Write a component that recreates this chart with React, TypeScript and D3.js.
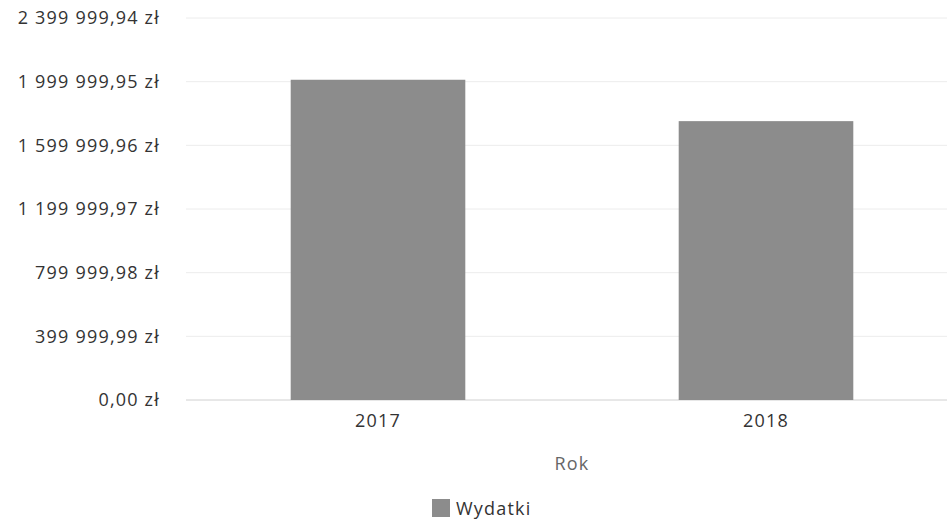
import React from "react";
import * as d3 from "d3";

const categories = ["2017", "2018"];
const values = [2012000, 1752000];
const tickValues = [0, 399999.99, 799999.98, 1199999.97, 1599999.96, 1999999.95, 2399999.94];
const seriesName = "Wydatki";
const xTitle = "Rok";

const W = 947;
const H = 522;
const FONT = "'Open Sans', sans-serif";

function fmt(v: number): string {
  const [intPart, dec] = v.toFixed(2).split(".");
  const withSpaces = intPart.replace(/\B(?=(\d{3})+(?!\d))/g, " ");
  return `${withSpaces},${dec} zł`;
}

export default function App() {
  const left = 184;
  const top = 18;
  const bottom = 400;
  const y = d3.scaleLinear().domain([0, tickValues[tickValues.length - 1]]).range([bottom, top]);
  const x = d3.scaleBand<string>().domain(categories).range([left, 960]).paddingInner(0.55).paddingOuter(0.275);
  const barColor = "#8c8c8c";
  const ls = 1.2;
  return (
    <svg width={W} height={H} style={{ position: "absolute", left: 0, top: 0, background: "#fff" }}>
      {tickValues.map((t, i) => (
        <g key={i}>
          <line x1={186} x2={W} y1={y(t)} y2={y(t)} stroke={i === 0 ? "#d0d0d0" : "#ececec"} strokeWidth={1} />
          <text x={160} y={y(t)} dy="0.35em" textAnchor="end" fontFamily={FONT} fontSize={18} fill="#333" letterSpacing={ls}>
            {fmt(t)}
          </text>
        </g>
      ))}
      {categories.map((c, i) => (
        <g key={c}>
          <rect x={x(c)} y={y(values[i])} width={x.bandwidth()} height={bottom - y(values[i])} fill={barColor} />
          <text x={(x(c) as number) + x.bandwidth() / 2} y={427} textAnchor="middle" fontFamily={FONT} fontSize={18} fill="#333" letterSpacing={ls}>
            {c}
          </text>
        </g>
      ))}
      <text x={572} y={470} textAnchor="middle" fontFamily={FONT} fontSize={18} fill="#666" letterSpacing={ls}>
        {xTitle}
      </text>
      <rect x={432} y={499} width={18} height={18} fill={barColor} />
      <text x={456} y={515} fontFamily={FONT} fontSize={18} fill="#333" letterSpacing={ls}>
        {seriesName}
      </text>
    </svg>
  );
}
